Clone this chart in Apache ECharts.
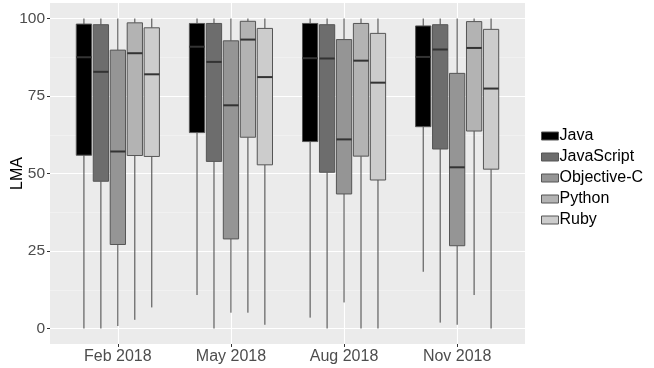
<!DOCTYPE html>
<html>
<head>
<meta charset="utf-8">
<script src="https://cdn.jsdelivr.net/npm/echarts@6/dist/echarts.min.js"></script>
<style>
  html, body { margin: 0; padding: 0; background: #fff; }
  #chart { width: 654px; height: 368px; }
</style>
</head>
<body>
<div id="chart"></div>
<script>
const months = ['Feb 2018', 'May 2018', 'Aug 2018', 'Nov 2018']
const languages = ['Java', 'JavaScript', 'Objective-C', 'Python', 'Ruby']
const fills = ['#000000', '#6d6d6d', '#959595', '#b3b3b3', '#cccccc']
const yTicks = [0, 25, 50, 75, 100]

// [lower whisker, Q1, median, Q3, upper whisker] per month
const java = [[0, 55.9, 87.5, 98.2, 100], [10.8, 63.2, 90.9, 98.4, 100], [3.5, 60.3, 87.2, 98.4, 100], [18.3, 65.1, 87.6, 97.6, 100]]
const javascript = [[0, 47.5, 82.8, 98, 100], [0, 53.9, 86, 98.4, 100], [0, 50.4, 87.1, 98, 100], [1.9, 57.9, 90, 98, 100]]
const objc = [[0.8, 27.1, 57.1, 89.8, 100], [5.1, 28.9, 72, 92.8, 100], [8.4, 43.4, 61, 93.2, 100], [1.2, 26.7, 52, 82.3, 100]]
const python = [[2.8, 55.8, 88.8, 98.6, 100], [5.1, 61.7, 93.2, 99.1, 100], [0, 55.6, 86.4, 98.4, 100], [10.8, 63.7, 90.5, 99, 100]]
const ruby = [[6.8, 55.5, 82, 97, 100], [1.2, 52.8, 81.1, 96.8, 100], [0, 47.9, 79.3, 95.2, 100], [0, 51.4, 77.4, 96.5, 100]]

const stats = [java, javascript, objc, python, ruby]

const chart = echarts.init(document.getElementById('chart'), null, { renderer: 'canvas' })

function boxRenderer(k) {
  return function (params, api) {
    const x = api.value(0)
    const bw = api.size([1, 0])[0]
    const off = (k - 2) * 0.15 * bw
    const half = 0.135 * bw / 2
    const lo = api.coord([x, api.value(1)])
    const q1 = api.coord([x, api.value(2)])
    const md = api.coord([x, api.value(3)])
    const q3 = api.coord([x, api.value(4)])
    const hi = api.coord([x, api.value(5)])
    const cx = lo[0] + off
    const line = { stroke: '#444', lineWidth: 1 }
    return {
      type: 'group',
      children: [
        { type: 'line', shape: { x1: cx, y1: hi[1], x2: cx, y2: q3[1] }, style: line },
        { type: 'line', shape: { x1: cx, y1: q1[1], x2: cx, y2: lo[1] }, style: line },
        {
          type: 'rect',
          shape: { x: cx - half, y: q3[1], width: half * 2, height: q1[1] - q3[1] },
          style: { fill: fills[k], stroke: '#555', lineWidth: 1 },
        },
        { type: 'line', shape: { x1: cx - half, y1: md[1], x2: cx + half, y2: md[1] }, style: { stroke: '#333', lineWidth: 2 } },
      ],
    }
  }
}

const option = {
  animation: false,
  textStyle: { fontFamily: 'Liberation Sans, Arial, sans-serif' },
  grid: [
    { left: 50, right: 129, top: 3, bottom: 24, show: true, backgroundColor: '#ebebeb', borderWidth: 0, containLabel: false, outerBoundsMode: 'none' },
    { left: 50, right: 129, top: 18.5, bottom: 39.5, containLabel: false, outerBoundsMode: 'none' },
  ],
  xAxis: [
    {
      type: 'value', gridIndex: 0, min: -0.6, max: 3.6, splitNumber: 4, position: 'bottom',
      axisLine: { show: false, onZero: false },
      axisTick: { show: true, length: 3, lineStyle: { color: '#333' }, customValues: [0, 1, 2, 3] },
      axisLabel: {
        customValues: [0, 1, 2, 3],
        formatter: v => months[Math.round(v)] || '',
        color: '#4d4d4d', fontSize: 16, margin: 5,
      },
      splitLine: { show: true, lineStyle: { color: '#fff', width: 1.1 } },
    },
    { type: 'value', gridIndex: 1, min: -0.6, max: 3.6, show: false, axisLine: { onZero: false } },
  ],
  yAxis: [
    { type: 'value', gridIndex: 0, min: -5, max: 105, show: false, axisLine: { onZero: false } },
    {
      type: 'value', gridIndex: 1, min: 0, max: 100, interval: 25, position: 'left',
      name: 'LMA', nameLocation: 'middle', nameRotate: 90, nameGap: 24, nameMoveOverlap: false,
      nameTextStyle: { color: '#000', fontSize: 16 },
      axisLine: { show: false, onZero: false },
      axisTick: { show: true, length: 3, lineStyle: { color: '#333' } },
      axisLabel: { color: '#4d4d4d', fontSize: 15.5, margin: 5 },
      splitLine: { show: true, lineStyle: { color: '#fff', width: 1.1 } },
      minorTick: { show: false, splitNumber: 2 },
      minorSplitLine: { show: true, lineStyle: { color: '#f5f5f5', width: 0.6 } },
    },
  ],
  legend: {
    orient: 'vertical', left: 536, top: 123,
    itemWidth: 17, itemHeight: 8, itemGap: 5,
    icon: 'rect',
    textStyle: { color: '#000', fontSize: 16, padding: [0, 0, 0, -4] },
    data: languages.map(n => ({ name: n, itemStyle: { borderColor: '#555', borderWidth: 1 } })),
  },
  series: languages.map((name, k) => ({
    name,
    type: 'custom',
    xAxisIndex: 0,
    yAxisIndex: 0,
    itemStyle: { color: fills[k] },
    renderItem: boxRenderer(k),
    encode: { x: 0, y: [1, 2, 3, 4, 5] },
    data: stats[k].map((s, i) => [i].concat(s)),
  })),
}

chart.setOption(option)
</script>
</body>
</html>
